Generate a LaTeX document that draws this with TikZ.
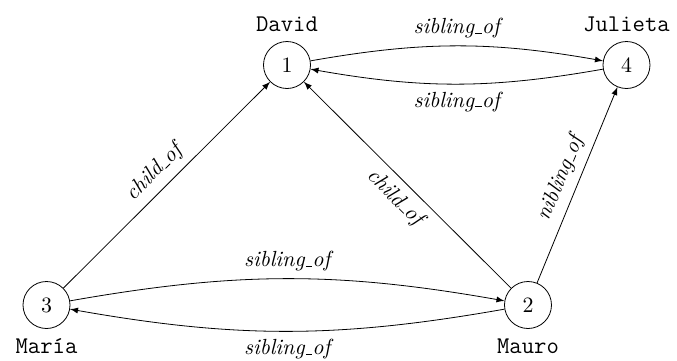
\documentclass[tikz,border=0pt,11pt]{standalone}
\usetikzlibrary{arrows}

% short low bar, as in the old text fonts
\newcommand{\undsc}{\leavevmode\kern.06em\vbox{\hrule width.3em}}

\begin{document}
\begin{tikzpicture}[x=0.5pt, y=-0.5pt, >=latex,
    person/.style={draw, circle, minimum size=23.5pt, inner sep=0pt},
    who/.style={font=\large\ttfamily, label distance=1pt},
    rel/.style={font=\itshape}]
    % Keep the page at the size of the reference
    \useasboundingbox (0,0) rectangle (677,360);

    % Draw the four people
    \node[person, label={[who]above:David}] (david) at (287,65) {1};
    \node[person, label={[who]above:Julieta}] (julieta) at (626.5,65) {4};
    \node[person, label={[who]below:María}] (maria) at (46.5,305) {3};
    \node[person, label={[who]below:Mauro}] (mauro) at (528,305) {2};

    % Siblings at the top (bent both ways)
    \draw[->] (david) to[bend left=10] node[rel, above] {sibling\undsc of} (julieta);
    \draw[->] (julieta) to[bend left=10] node[rel, below] {sibling\undsc of} (david);

    % Siblings at the bottom
    \draw[->] (maria) to[bend left=10] node[rel, above] {sibling\undsc of} (mauro);
    \draw[->] (mauro) to[bend left=10] node[rel, below] {sibling\undsc of} (maria);

    % Children of David
    \draw[->] (maria) -- node[rel, sloped, above] {child\undsc of} (david);
    \draw[->] (mauro) -- node[rel, sloped, below] {child\undsc of} (david);

    % Mauro to Julieta
    \draw[->] (mauro) -- node[rel, sloped, above] {nibling\undsc of} (julieta);

\end{tikzpicture}
\end{document}
